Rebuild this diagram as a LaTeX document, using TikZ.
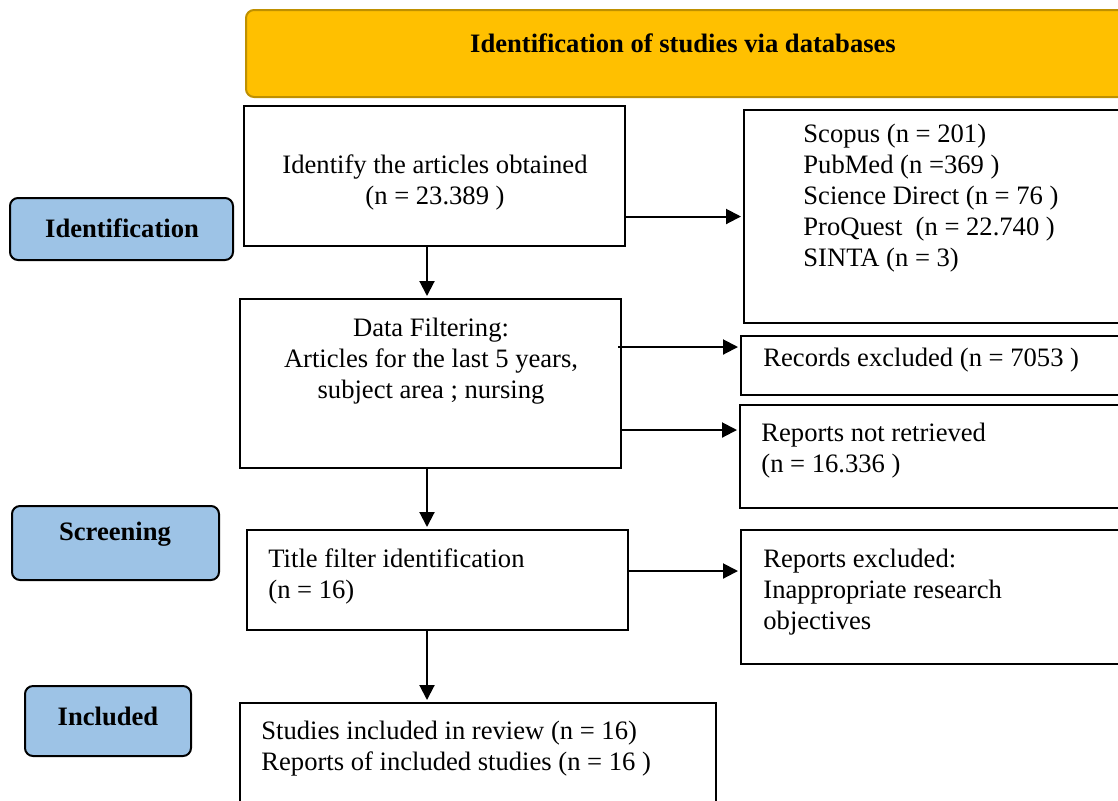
\documentclass[tikz,border=0pt]{standalone}
\usepackage{fontspec}
\setmainfont{Liberation Serif}
\usetikzlibrary{arrows.meta,positioning,calc}
\usepackage{xcolor}
\definecolor{bannergold}{HTML}{FFC000}
\definecolor{banneredge}{HTML}{BF9000}
\definecolor{stageblue}{HTML}{9DC3E6}

\tikzset{
  box/.style={draw, line width=1pt, inner sep=0pt, outer sep=0pt, anchor=north west},
  stage/.style={box, fill=stageblue, rounded corners=4pt},
  txt/.style={inner sep=0pt, font=\fontsize{13.3}{15.5}\selectfont},
  arr/.style={line width=1pt, -{Triangle[length=7.5pt,width=7.5pt]}, shorten >=1.5pt},
}

\begin{document}
\begin{tikzpicture}[x=0.5pt, y=-0.5pt]
    \useasboundingbox (0,0) rectangle (1118,800);
    \clip (0,0) rectangle (1118,800);

    % Banner
    \node[box, draw=banneredge, fill=bannergold, rounded corners=4pt,
          minimum width=442pt, minimum height=43.5pt] (banner) at (246,10) {};
    \node[txt, font=\fontsize{13.3}{15.5}\selectfont\bfseries, anchor=north] (bannertxt) at (683,33)
        {Identification of studies via databases};

    % Stage labels
    \node[stage, minimum width=111.5pt, minimum height=31pt] (lident) at (10,198) {};
    \node[txt, font=\fontsize{13.3}{15.5}\selectfont\bfseries] (lidenttxt) at (122,228) {Identification};
    \node[stage, minimum width=103.5pt, minimum height=37pt] (lscreen) at (12,506) {};
    \node[txt, font=\fontsize{13.3}{15.5}\selectfont\bfseries] (lscreentxt) at (115,534) {Screening};
    \node[stage, minimum width=83pt, minimum height=35pt] (lincl) at (25,686) {};
    \node[txt, font=\fontsize{13.3}{15.5}\selectfont\bfseries] (lincltxt) at (108,716) {Included};

    % Identify the articles
    \node[box, minimum width=190.5pt, minimum height=70pt] (ident) at (244,106) {};
    \node[txt, align=center, anchor=north] (identtxt) at (435,154)
        {Identify the articles obtained\\(n = 23.389 )};

    % Databases
    \node[box, minimum width=193pt, minimum height=106.5pt] (sources) at (744,110) {};
    \node[txt, align=left, anchor=north west] (sourcestxt) at (803,124)
        {Scopus (n = 201)\\PubMed (n =369 )\\Science Direct (n = 76 )\\ProQuest\ \ (n = 22.740 )\\SINTA (n = 3)};

    % Data filtering
    \node[box, minimum width=190.5pt, minimum height=84.5pt] (filter) at (240,299) {};
    \node[txt, align=center, anchor=north] (filtertxt) at (431,318)
        {Data Filtering:\\Articles for the last 5 years,\\subject area ; nursing};

    \node[box, minimum width=194.5pt, minimum height=29.5pt] (records) at (741,336) {};
    \node[txt, anchor=north west] (recordstxt) at (763,348) {Records excluded (n = 7053 )};

    \node[box, minimum width=195pt, minimum height=51.5pt] (notret) at (740,405) {};
    \node[txt, align=left, anchor=north west] (notrettxt) at (761,423)
        {Reports not retrieved\\(n = 16.336 )};

    % Title filter
    \node[box, minimum width=190.5pt, minimum height=50pt] (title) at (247,530) {};
    \node[txt, align=left, anchor=north west] (titletxt) at (268,548)
        {Title filter identification\\(n = 16)};

    \node[box, minimum width=194.5pt, minimum height=67pt] (excl) at (741,530) {};
    \node[txt, align=left, anchor=north west] (excltxt) at (763,549)
        {Reports excluded:\\Inappropriate research\\objectives};

    % Included
    \node[box, minimum width=238pt, minimum height=58.5pt] (studies) at (240,703) {};
    \node[txt, align=left, anchor=north west] (studiestxt) at (261,721)
        {Studies included in review (n = 16)\\Reports of included studies (n = 16 )};

    % Arrows
    \coordinate (spine) at (427,0);
    \coordinate (recordsin) at ([yshift=9.25pt]records.west);
    \coordinate (notretin) at ([yshift=13.25pt]notret.west);
    \coordinate (exclin) at ([yshift=13pt]excl.west);
    \draw[arr] (ident.south -| spine) -- (filter.north -| spine);
    \draw[arr] (filter.south -| spine) -- (title.north -| spine);
    \draw[arr] (title.south -| spine) -- (studies.north -| spine);
    \draw[arr] (ident.east |- sources.west) -- (sources.west);
    \draw[arr] ([xshift=-1.5pt]filter.east |- recordsin) -- (recordsin);
    \draw[arr] (filter.east |- notretin) -- (notretin);
    \draw[arr] (title.east |- exclin) -- (exclin);
\end{tikzpicture}
\end{document}
